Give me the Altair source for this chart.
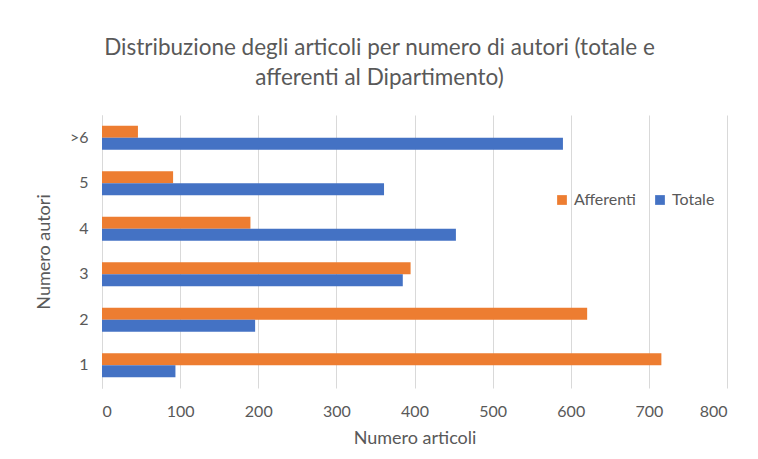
import altair as alt
import pandas as pd

categories = ["1", "2", "3", "4", "5", ">6"]
totale = [94, 196, 385, 453, 361, 590]
afferenti = [716, 621, 395, 190, 91, 46]
series_names = ["Afferenti", "Totale"]
series_colors = ["#ED7D31", "#4472C4"]
x_ticks = [0, 100, 200, 300, 400, 500, 600, 700, 800]

rows = []
for c, t, a in zip(categories, totale, afferenti):
    rows.append({"autori": c, "serie": "Afferenti", "articoli": a})
    rows.append({"autori": c, "serie": "Totale", "articoli": t})
df = pd.DataFrame(rows)

FONT = "Lato"
GREY = "#595959"

chart = alt.Chart(df).mark_bar().encode(
    y=alt.Y("autori:N", sort=list(reversed(categories)),
            scale=alt.Scale(paddingInner=0.47, paddingOuter=0.235),
            axis=alt.Axis(title="Numero autori", labelPadding=14, ticks=False,
                          domainColor="#D9D9D9", titlePadding=16)),
    yOffset=alt.YOffset("serie:N", sort=series_names),
    x=alt.X("articoli:Q", scale=alt.Scale(domain=[0, 800]),
            axis=alt.Axis(title="Numero articoli", values=x_ticks, ticks=False,
                          domain=False, gridColor="#D9D9D9", labelPadding=15,
                          titlePadding=10)),
    color=alt.Color("serie:N", sort=series_names,
                    scale=alt.Scale(domain=series_names, range=series_colors),
                    legend=alt.Legend(title=None, orient="none", direction="horizontal",
                                      legendX=452, legendY=77, symbolType="square",
                                      symbolSize=95, labelFontSize=16, labelColor=GREY,
                                      labelFont=FONT, columnPadding=16, symbolStrokeWidth=0)),
).properties(
    width=625,
    height=273,
    title=alt.TitleParams(["Distribuzione degli articoli per numero di autori (totale e",
                           "afferenti al Dipartimento)"],
                          fontSize=22.5, font=FONT, fontWeight="normal", color=GREY,
                          anchor="middle", dx=-35, offset=26, lineHeight=30),
    autosize=alt.AutoSizeParams(type="none"),
    padding={"left": 94, "top": 107, "right": 20, "bottom": 60},
).configure_axis(
    labelFont=FONT, titleFont=FONT, labelFontSize=16, titleFontSize=18,
    labelColor=GREY, titleColor=GREY, titleFontWeight="normal",
).configure_view(stroke=None)

chart.save("out.html", embed_options={"renderer": "svg", "actions": False})
